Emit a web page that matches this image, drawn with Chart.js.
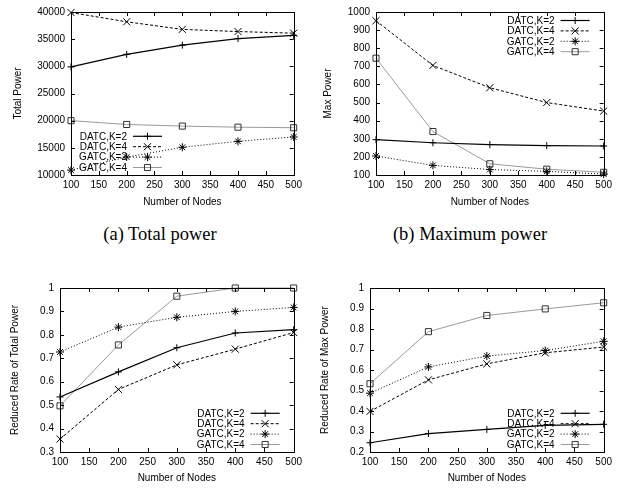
<!DOCTYPE html>
<html>
<head>
<meta charset="utf-8">
<script src="https://cdn.jsdelivr.net/npm/chart.js@4.4.1/dist/chart.umd.min.js"></script>
<style>
  body { margin: 0; background: #fff; width: 622px; height: 488px; position: relative; overflow: hidden; }
  canvas { position: absolute; }
  .cap { position: absolute; font-family: "Liberation Serif", "DejaVu Serif", serif; font-size: 18.5px; color: #000; white-space: nowrap; transform: translate(-50%, -50%); }
</style>
</head>
<body>
<canvas id="totalPower" width="306" height="210" style="left:0;top:0"></canvas>
<canvas id="maxPower" width="306" height="210" style="left:310px;top:0"></canvas>
<canvas id="rateTotal" width="306" height="212" style="left:0;top:276px"></canvas>
<canvas id="rateMax" width="306" height="212" style="left:310px;top:276px"></canvas>
<div class="cap" style="left:160px;top:234px">(a) Total power</div>
<div class="cap" style="left:470px;top:234px">(b) Maximum power</div>
<script>
// x values (number of nodes)
const nodes = [100, 200, 300, 400, 500];
const seriesNames = ["DATC,K=2", "DATC,K=4", "GATC,K=2", "GATC,K=4"];

// (a) total power
const totalDatcK2 = [29900, 32200, 33900, 35100, 35700];
const totalDatcK4 = [39900, 38200, 36800, 36400, 36100];
const totalGatcK2 = [10900, 13300, 15100, 16200, 17000];
const totalGatcK4 = [20000, 19300, 19000, 18800, 18700];

// (b) max power
const maxDatcK2 = [295, 278, 268, 262, 260];
const maxDatcK4 = [952, 705, 582, 500, 453];
const maxGatcK2 = [205, 153, 130, 120, 105];
const maxGatcK4 = [745, 340, 162, 132, 115];

// reduced rate of total power
const rateTotalDatcK2 = [0.535, 0.642, 0.745, 0.808, 0.822];
const rateTotalDatcK4 = [0.355, 0.567, 0.672, 0.739, 0.81];
const rateTotalGatcK2 = [0.727, 0.833, 0.875, 0.9, 0.917];
const rateTotalGatcK4 = [0.497, 0.757, 0.965, 1.0, 1.0];

// reduced rate of max power
const rateMaxDatcK2 = [0.245, 0.29, 0.31, 0.33, 0.335];
const rateMaxDatcK4 = [0.398, 0.552, 0.63, 0.684, 0.712];
const rateMaxGatcK2 = [0.487, 0.615, 0.668, 0.695, 0.74];
const rateMaxGatcK4 = [0.533, 0.787, 0.866, 0.898, 0.928];

const FONT = { family: "'Liberation Sans', Arial, sans-serif", size: 10 };

// gnuplot-like styles for the four series
const styles = [
    { borderColor: '#000', borderWidth: 1.2, borderDash: [], pointStyle: 'cross', pointRadius: 3.5, pointBorderColor: '#000' },
    { borderColor: '#000', borderWidth: 1, borderDash: [3, 2], pointStyle: 'crossRot', pointRadius: 5, pointBorderColor: '#000' },
    { borderColor: '#000', borderWidth: 1, borderDash: [1, 2], pointStyle: 'star', pointRadius: 4, pointBorderColor: '#000' },
    { borderColor: '#9a9a9a', borderWidth: 1, borderDash: [], pointStyle: 'rect', pointRadius: 4.3, pointBorderColor: '#333' }
];

function makeDatasets(values) {
    return values.map((v, i) => ({
        label: seriesNames[i],
        data: nodes.map((n, j) => ({ x: n, y: v[j] })),
        borderColor: styles[i].borderColor,
        borderWidth: styles[i].borderWidth,
        borderDash: styles[i].borderDash,
        pointStyle: styles[i].pointStyle,
        pointRadius: styles[i].pointRadius,
        pointBorderColor: styles[i].pointBorderColor,
        pointBorderWidth: 1,
        pointBackgroundColor: 'rgba(0,0,0,0)',
        tension: 0,
        clip: false
    }));
}

// frame box with inward ticks on all sides, plus the key
const gnuFrame = {
    id: 'gnuFrame',
    afterDatasetsDraw(chart, args, opts) {
        const ctx = chart.ctx;
        const a = chart.chartArea;
        const xs = chart.scales.x, ys = chart.scales.y;
        const len = 4;
        ctx.save();
        ctx.strokeStyle = '#000';
        ctx.lineWidth = 1;
        ctx.setLineDash([]);
        ctx.beginPath();
        xs.ticks.forEach(t => {
            const px = Math.round(xs.getPixelForValue(t.value)) + 0.5;
            ctx.moveTo(px, a.bottom); ctx.lineTo(px, a.bottom - len);
            ctx.moveTo(px, a.top); ctx.lineTo(px, a.top + len);
        });
        ys.ticks.forEach(t => {
            const py = Math.round(ys.getPixelForValue(t.value)) + 0.5;
            ctx.moveTo(a.left, py); ctx.lineTo(a.left + len, py);
            ctx.moveTo(a.right, py); ctx.lineTo(a.right - len, py);
        });
        ctx.stroke();
        ctx.strokeRect(Math.round(a.left) + 0.5, Math.round(a.top) + 0.5,
            Math.round(a.right - a.left), Math.round(a.bottom - a.top));

        // key
        const rowH = 10.4;
        const n = chart.data.datasets.length;
        let textRight, lx1, lx2, y0;
        if (opts.corner === 'bl') {
            textRight = a.left + 56; lx1 = a.left + 62; lx2 = a.left + 91;
        } else {
            textRight = a.right - 49; lx1 = a.right - 43; lx2 = a.right - 14;
        }
        if (opts.corner === 'tr') y0 = a.top + 8.5;
        else y0 = a.bottom - 7.5 - (n - 1) * rowH;
        ctx.font = "10px 'Liberation Sans', Arial, sans-serif";
        ctx.textAlign = 'right';
        ctx.textBaseline = 'middle';
        chart.data.datasets.forEach((ds, i) => {
            const y = y0 + i * rowH;
            ctx.fillStyle = '#000';
            ctx.fillText(ds.label, textRight, y + 0.5);
            ctx.strokeStyle = ds.borderColor;
            ctx.lineWidth = ds.borderWidth;
            ctx.setLineDash(ds.borderDash);
            ctx.beginPath();
            ctx.moveTo(lx1, y); ctx.lineTo(lx2, y);
            ctx.stroke();
            ctx.setLineDash([]);
            ctx.strokeStyle = ds.pointBorderColor;
            ctx.fillStyle = 'rgba(0,0,0,0)';
            ctx.lineWidth = 1;
            Chart.helpers.drawPoint(ctx, {
                pointStyle: ds.pointStyle, radius: ds.pointRadius, rotation: 0, borderWidth: 1
            }, (lx1 + lx2) / 2, y);
        });
        ctx.restore();
    }
};

function makeChart(id, values, yOpts) {
    const ctx = document.getElementById(id).getContext('2d');
    return new Chart(ctx, {
        type: 'line',
        data: { datasets: makeDatasets(values) },
        options: {
            responsive: false,
            animation: false,
            layout: { padding: { top: 6, right: 10, left: 0, bottom: 0 } },
            plugins: {
                legend: { display: false },
                tooltip: { enabled: false },
                gnuFrame: { corner: yOpts.corner }
            },
            scales: {
                x: {
                    type: 'linear',
                    min: 100, max: 500,
                    grid: { display: false, drawTicks: false },
                    border: { display: false },
                    ticks: { stepSize: 50, autoSkip: false, padding: 4, color: '#000', font: FONT, maxRotation: 0 },
                    title: { display: true, text: 'Number of Nodes', color: '#000', font: FONT, padding: { top: 0, bottom: yOpts.xTitlePad } },
                    afterFit: s => { s.height = yOpts.xHeight; }
                },
                y: {
                    type: 'linear',
                    min: yOpts.min, max: yOpts.max,
                    grid: { display: false, drawTicks: false },
                    border: { display: false },
                    ticks: {
                        stepSize: yOpts.step, padding: 6, color: '#000', font: FONT,
                        callback: v => String(+v.toFixed(2))
                    },
                    title: { display: true, text: yOpts.title, color: '#000', font: FONT, padding: { top: yOpts.yTitlePad, bottom: 0 } },
                    afterFit: s => { s.width = yOpts.yWidth; }
                }
            }
        },
        plugins: [gnuFrame]
    });
}

makeChart('totalPower', [totalDatcK2, totalDatcK4, totalGatcK2, totalGatcK4],
    { min: 10000, max: 40000, step: 5000, title: 'Total Power', corner: 'bl', yWidth: 71, xHeight: 35, xTitlePad: 2, yTitlePad: 12 });
makeChart('maxPower', [maxDatcK2, maxDatcK4, maxGatcK2, maxGatcK4],
    { min: 100, max: 1000, step: 100, title: 'Max Power', corner: 'tr', yWidth: 66, xHeight: 35, xTitlePad: 2, yTitlePad: 12 });
makeChart('rateTotal', [rateTotalDatcK2, rateTotalDatcK4, rateTotalGatcK2, rateTotalGatcK4],
    { min: 0.3, max: 1, step: 0.1, title: 'Reduced Rate of Total Power', corner: 'br', yWidth: 60, xHeight: 36, xTitlePad: 4, yTitlePad: 9 });
makeChart('rateMax', [rateMaxDatcK2, rateMaxDatcK4, rateMaxGatcK2, rateMaxGatcK4],
    { min: 0.2, max: 1, step: 0.1, title: 'Reduced Rate of Max Power', corner: 'br', yWidth: 60, xHeight: 36, xTitlePad: 4, yTitlePad: 9 });
</script>
</body>
</html>
